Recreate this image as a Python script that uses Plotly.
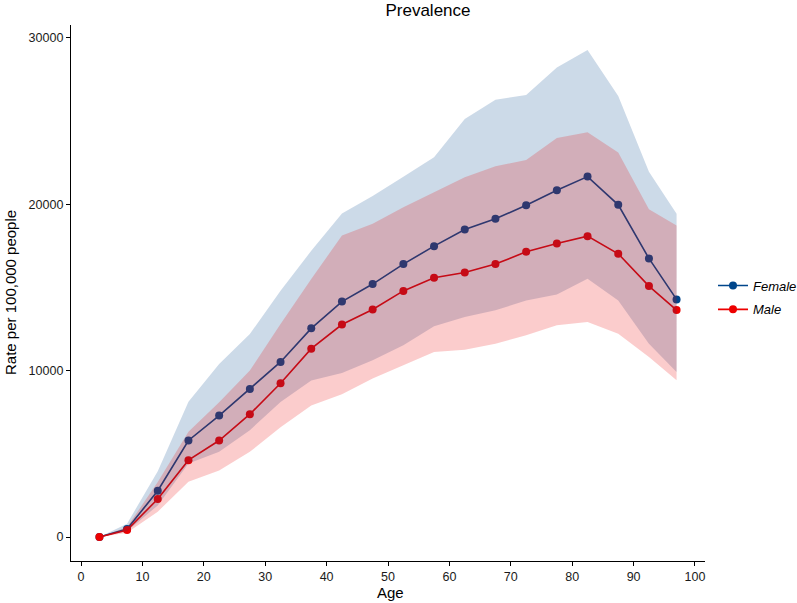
import plotly.graph_objects as go

age = [3, 7.5, 12.5, 17.5, 22.5, 27.5, 32.5, 37.5, 42.5, 47.5, 52.5,
       57.5, 62.5, 67.5, 72.5, 77.5, 82.5, 87.5, 92.5, 97]

female_val = [0, 480, 2780, 5800, 7300, 8900, 10520, 12540, 14150, 15200, 16400,
              17480, 18480, 19120, 19940, 20840, 21660, 19960, 16740, 14280]
female_low = [0, 350, 1900, 4420, 5120, 6420, 8120, 9400, 9850, 10620, 11520,
              12660, 13220, 13620, 14220, 14580, 15520, 14220, 11620, 9920]
female_up = [0, 800, 3950, 8130, 10400, 12200, 14800, 17200, 19440, 20500, 21650,
             22820, 25120, 26280, 26560, 28220, 29260, 26500, 21950, 19420]

male_val = [0, 420, 2280, 4620, 5800, 7380, 9240, 11320, 12770, 13670, 14790,
            15580, 15890, 16400, 17140, 17640, 18080, 17020, 15080, 13640]
male_low = [0, 250, 1520, 3320, 4000, 5120, 6600, 7900, 8580, 9520, 10320,
            11120, 11260, 11620, 12120, 12720, 12920, 12220, 10820, 9420]
male_up = [0, 600, 3300, 6320, 8100, 10000, 12800, 15500, 18120, 18820, 19820,
           20720, 21620, 22280, 22660, 23980, 24320, 23100, 19700, 18720]

x_ticks = [0, 10, 20, 30, 40, 50, 60, 70, 80, 90, 100]
y_ticks = [0, 10000, 20000, 30000]

FEMALE = "#00468B"
MALE = "#ED0000"

fig = go.Figure()

# lines with points (drawn first; ribbons overlay them)
fig.add_trace(go.Scatter(x=age, y=female_val, mode="lines+markers", name="Female",
                         legendgroup="f",
                         line=dict(color=FEMALE, width=1.6),
                         marker=dict(color=FEMALE, size=8)))
fig.add_trace(go.Scatter(x=age, y=male_val, mode="lines+markers", name="Male",
                         legendgroup="m",
                         line=dict(color=MALE, width=1.6),
                         marker=dict(color=MALE, size=8)))

# ribbons
fig.add_trace(go.Scatter(x=age, y=female_low, mode="lines", line=dict(width=0),
                         showlegend=False, hoverinfo="skip"))
fig.add_trace(go.Scatter(x=age, y=female_up, mode="lines", line=dict(width=0),
                         fill="tonexty", fillcolor="rgba(0,70,139,0.2)",
                         showlegend=False, hoverinfo="skip"))
fig.add_trace(go.Scatter(x=age, y=male_low, mode="lines", line=dict(width=0),
                         showlegend=False, hoverinfo="skip"))
fig.add_trace(go.Scatter(x=age, y=male_up, mode="lines", line=dict(width=0),
                         fill="tonexty", fillcolor="rgba(237,0,0,0.2)",
                         showlegend=False, hoverinfo="skip"))

fig.update_layout(
    width=797, height=603,
    margin=dict(l=71, r=92, t=25, b=42, autoexpand=False),
    paper_bgcolor="white", plot_bgcolor="white",
    font=dict(family="Liberation Sans, Arial, sans-serif", color="#1a1a1a", size=13),
    title=dict(text="Prevalence", x=0.537, xref="container", xanchor="center",
               y=0.983, yref="container", yanchor="middle",
               font=dict(size=17, color="black")),
    legend=dict(xref="container", yref="container", x=0.8946, xanchor="left",
                y=0.5066, yanchor="middle", traceorder="grouped", tracegroupgap=4,
                font=dict(size=13, style="italic", color="black"),
                bgcolor="rgba(0,0,0,0)", itemwidth=30),
    showlegend=True,
    annotations=[
        dict(text="Rate per 100,000 people", xref="paper", yref="paper",
             x=-61 / 634, y=0.5, xanchor="center", yanchor="middle",
             textangle=-90, showarrow=False, font=dict(size=15, color="black")),
        dict(text="Age", xref="paper", yref="paper",
             x=(390 - 71) / 634, y=-(592 - 561) / 536, xanchor="center", yanchor="middle",
             showarrow=False, font=dict(size=15, color="black")),
    ],
)

fig.update_xaxes(range=[-1.63, 101.63], tickvals=x_ticks, ticktext=[str(v) for v in x_ticks],
                 showgrid=False, zeroline=False, showline=True, linecolor="black", linewidth=1.3,
                 ticks="outside", ticklen=4, tickcolor="black", tickwidth=1, automargin=False,
                 tickfont=dict(size=12.5, color="#1a1a1a"))
fig.update_yaxes(range=[-1442, 30769], tickvals=y_ticks, ticktext=[str(v) for v in y_ticks],
                 showgrid=False, zeroline=False, showline=True, linecolor="black", linewidth=1.3,
                 ticks="outside", ticklen=4, tickcolor="black", tickwidth=1, automargin=False,
                 tickfont=dict(size=12.5, color="#1a1a1a"))

fig.write_html("out.html", config={"displayModeBar": False},
               post_script="document.body.style.margin='0';")
